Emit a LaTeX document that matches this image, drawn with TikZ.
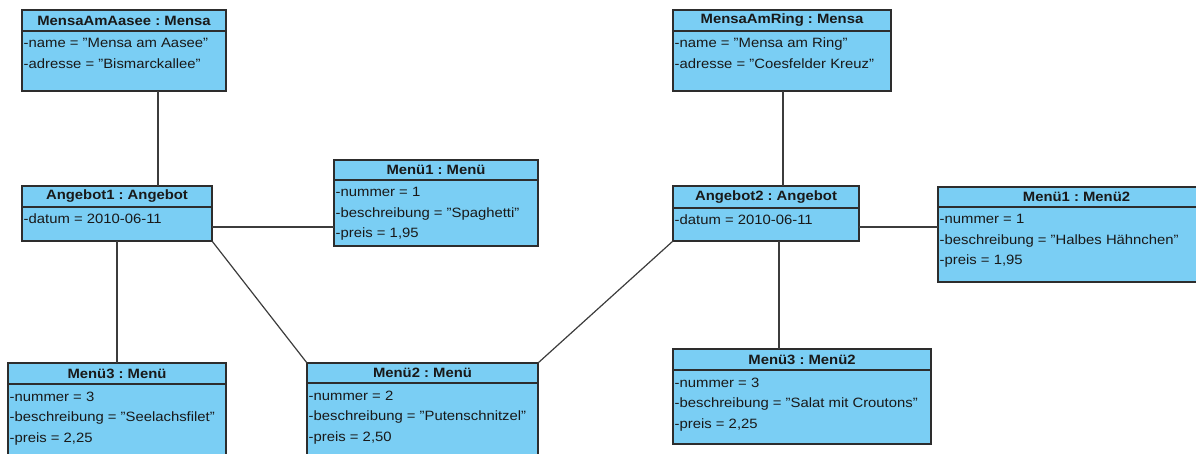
\documentclass[tikz,border=0pt]{standalone}
\usepackage{fontspec}
\setmainfont{Liberation Sans}[FakeStretch=1.1]
\frenchspacing
\definecolor{objfill}{RGB}{122,206,244}
\definecolor{objborder}{RGB}{45,45,45}
\definecolor{linkcol}{RGB}{60,60,60}
\definecolor{txtcol}{RGB}{25,25,25}
\renewcommand{\arraystretch}{1}
% straight double quote
\newcommand{\dq}{\symbol{34}}
\tikzset{
  objbox/.style={draw=objborder, fill=objfill, line width=1.3pt, inner sep=0pt, outer sep=0pt, rectangle},
  objline/.style={draw=objborder, line width=1.3pt},
  titletext/.style={inner sep=0pt, text=txtcol, font=\fontsize{13.5}{16}\selectfont\bfseries},
  attrtext/.style={inner sep=0pt, text=txtcol, anchor=base west, font=\fontsize{13.5}{20.5}\selectfont},
  link/.style={draw=linkcol, line width=1.2pt}
}
% #1 name, #2 left, #3 top, #4 right, #5 bottom, #6 header line, #7 title, #8 attribute lines
\newcommand{\umlobj}[8]{%
  \node[objbox, minimum width={#4-#2}, minimum height={#5-#3}, anchor=north west] (#1) at (#2,#3) {};
  \draw[objline] (#1.west |- 0,#6) -- (#1.east |- 0,#6);
  \node[titletext] (#1-title) at ({(#2+#4)/2},{(#3+#6)/2}) {#7};
  \node[attrtext] (#1-attrs) at ({#2+1.5},{#6+17}) {\begin{tabular}[t]{@{}l@{}}#8\end{tabular}};
}
\begin{document}
\begin{tikzpicture}[x=1pt, y=-1pt]
\useasboundingbox (0,0) rectangle (1196,454);
\clip (0,0) rectangle (1196,454);

% columns and row of the links that do not meet a box centre
\coordinate (k1) at (158,0);
\coordinate (k2) at (783,0);
\coordinate (k3) at (779,0);
\coordinate (h) at (0,227);

% objects of the first Mensa
\umlobj{ma}{22}{10}{226}{91}{31}{MensaAmAasee : Mensa}{-name = \dq Mensa am Aasee\dq\\-adresse = \dq Bismarckallee\dq}
\umlobj{a1}{22}{186}{212}{241}{207}{Angebot1 : Angebot}{-datum = 2010-06-11}
\umlobj{m1}{334}{160}{538}{246}{180}{Menü1 : Menü}{-nummer = 1\\-beschreibung = \dq Spaghetti\dq\\-preis = 1,95}
\umlobj{m3}{8}{363}{226}{480}{384}{Menü3 : Menü}{-nummer = 3\\-beschreibung = \dq Seelachsfilet\dq\\-preis = 2,25}
\umlobj{m2}{307}{363}{538}{480}{383}{Menü2 : Menü}{-nummer = 2\\-beschreibung = \dq Putenschnitzel\dq\\-preis = 2,50}

% objects of the second Mensa
\umlobj{mr}{673}{10}{891}{91}{31}{MensaAmRing : Mensa}{-name = \dq Mensa am Ring\dq\\-adresse = \dq Coesfelder Kreuz\dq}
\umlobj{a2}{673}{186}{859}{241}{208}{Angebot2 : Angebot}{-datum = 2010-06-11}
\umlobj{n1}{938}{187}{1215}{282}{207}{Menü1 : Menü2}{-nummer = 1\\-beschreibung = \dq Halbes Hähnchen\dq\\-preis = 1,95}
\umlobj{n3}{673}{349}{931}{444}{370}{Menü3 : Menü2}{-nummer = 3\\-beschreibung = \dq Salat mit Croutons\dq\\-preis = 2,25}

% links
\draw[link] (ma.south -| k1) -- (a1.north -| k1);
\draw[link] (a1.east |- h) -- (m1.west |- h);
\draw[link] (a1.south) -- (m3.north);
\draw[link] (a1.south east) -- (m2.north west);
\draw[link] (m2.north east) -- (a2.south west);
\draw[link] (mr.south -| k2) -- (a2.north -| k2);
\draw[link] (a2.east |- h) -- (n1.west |- h);
\draw[link] (a2.south -| k3) -- (n3.north -| k3);
\end{tikzpicture}
\end{document}
